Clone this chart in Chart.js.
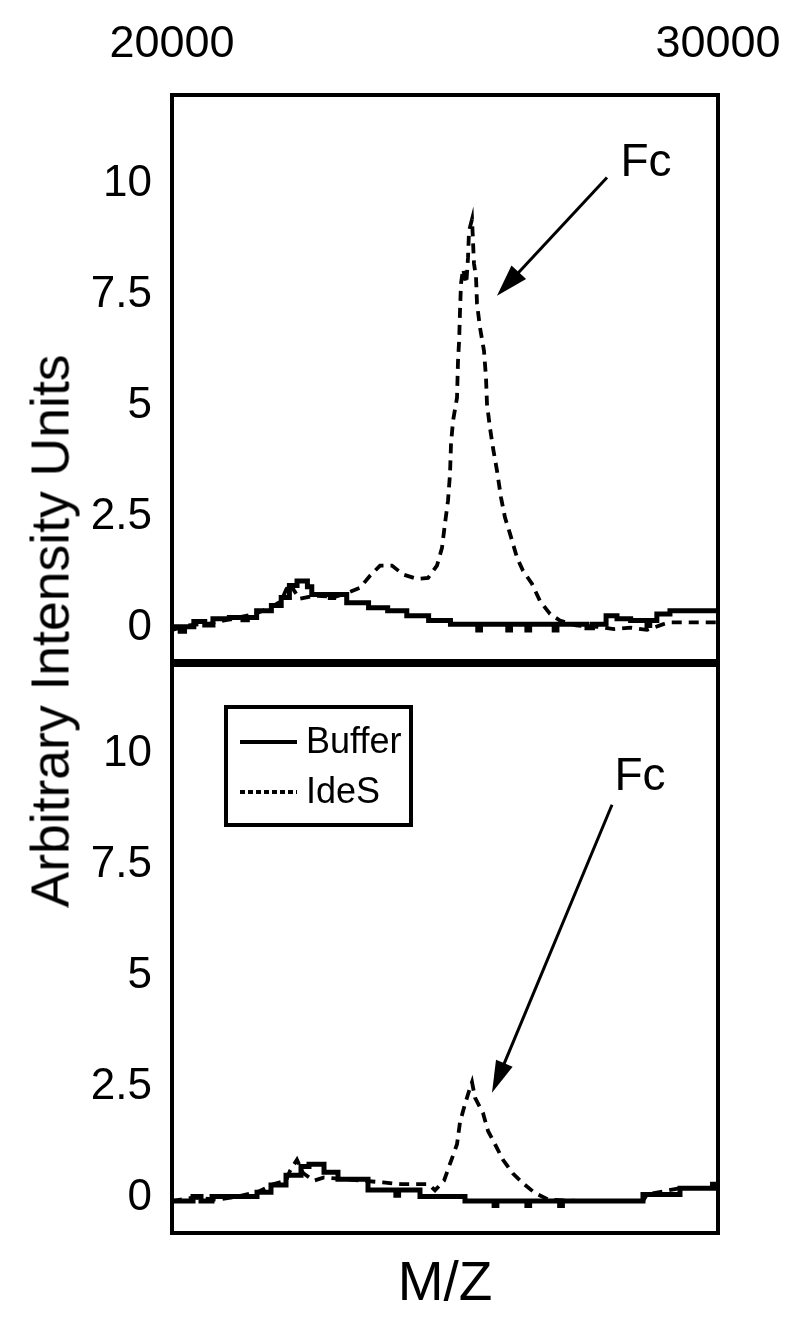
<!DOCTYPE html>
<html><head><meta charset="utf-8">
<script src="https://cdn.jsdelivr.net/npm/chart.js@4.4.1/dist/chart.umd.min.js"></script>
<style>
html,body{margin:0;padding:0;background:#fff;}
#wrap{position:relative;width:800px;height:1331px;overflow:hidden;background:#fff;}
canvas{position:absolute;left:0;}
#c1{top:0;}
#c2{top:663px;}
#ytitle{position:absolute;left:50px;top:631px;transform:translate(-50%,-50%) rotate(-90deg);font-size:53.5px;font-family:"Liberation Sans",Arial,sans-serif;white-space:nowrap;color:#000;}
</style></head><body>
<div id="wrap">
<canvas id="c1" width="800" height="665"></canvas>
<canvas id="c2" width="800" height="668"></canvas>
<div id="ytitle">Arbitrary Intensity Units</div>
</div>
<script>
// ---------- data ----------
const xTicks = [20000, 30000];
const yTicks = [0, 2.5, 5, 7.5, 10];
const seriesNames = ['Buffer', 'IdeS'];
const xTitle = 'M/Z';
const peakLabel = 'Fc';

// top panel
const topBufferMZ = [20000,20150,20230,20400,20600,20750,21050,21300,21380,21550,21820,22000,22150,22290,22480,22560,22900,22960,23200,23600,23950,24300,24700,25100,25600,25650,26150,26200,26500,26550,27000,27050,27600,27700,27950,28150,28400,28700,28750,28880,29120,30000];
const topBufferI  = [0.02,-0.08,0.02,0.14,0.06,0.2,0.23,0.18,0.23,0.38,0.5,0.68,0.95,1.05,0.92,0.75,0.68,0.75,0.56,0.45,0.38,0.27,0.16,0.08,-0.05,0.08,-0.05,0.08,-0.05,0.08,-0.05,0.08,0.0,0.08,0.27,0.2,0.16,0.05,0.16,0.31,0.38,0.38];

const topIdesMZ = [20000,20300,20700,21100,21500,21800,22000,22088,22161,22230,22330,22600,23000,23205,23443,23626,23810,24029,24231,24487,24689,24853,24945,25000,25055,25092,25110,25147,25220,25238,25260,25275,25293,25330,25390,25421,25440,25495,25513,25531,25568,25586,25641,25714,25751,25769,25824,25879,25952,26026,26099,26190,26319,26429,26593,26740,26923,27106,27400,27800,28100,28400,28700,29000,29121,30000];
const topIdesI  = [-0.05,0.05,0.1,0.2,0.3,0.45,0.6,0.85,1.0,0.85,0.65,0.72,0.7,0.78,0.9,1.17,1.4,1.4,1.2,1.1,1.12,1.4,1.8,2.35,2.86,3.47,4.14,4.66,5.18,6.0,6.5,7.14,7.75,8.08,7.75,8.33,8.94,9.2,8.7,8.2,7.9,7.3,6.76,6.24,5.63,5.04,4.5,4.05,3.54,2.93,2.48,2.12,1.58,1.28,0.99,0.6,0.31,0.16,0.05,0.02,-0.03,0.0,-0.05,0.08,0.12,0.12];

// bottom panel
const botBufferMZ = [20000,20385,20531,20733,21557,21813,22088,22363,22509,22784,23040,23590,24100,24150,24542,25366,25900,25950,26500,26550,27100,27150,28626,29304,29900,29950,30000];
const botBufferI  = [-0.08,0.02,-0.08,0.02,0.12,0.28,0.5,0.7,0.75,0.57,0.41,0.17,0.05,0.17,0.02,-0.08,-0.18,-0.08,-0.18,-0.08,-0.18,-0.08,0.07,0.21,0.3,0.21,0.21];

const botIdesMZ = [20000,20400,20800,21200,21600,21850,22088,22161,22289,22400,22600,22784,23300,23864,24200,24700,24817,24982,25220,25275,25366,25440,25495,25549,25697,25788,25916,26062,26245,26447,26648,26900,27500,28200,28626,28700,29304,30000];
const botIdesI  = [-0.08,0.0,-0.05,0.02,0.14,0.3,0.38,0.6,0.85,0.55,0.38,0.45,0.4,0.34,0.3,0.3,0.16,0.38,1.2,1.7,2.1,2.4,2.6,2.25,1.9,1.5,1.2,0.85,0.54,0.3,0.1,-0.05,-0.08,-0.08,-0.08,0.07,0.21,0.21];

// ---------- helpers ----------
const FONT = '"Liberation Sans", Arial, sans-serif';
const toPoints = (xs, ys) => xs.map((x, i) => ({x: x, y: ys[i]}));

const framePlugin = {
  id: 'frame',
  afterDraw(chart, args, o) {
    const {ctx, chartArea: a} = chart;
    ctx.save();
    ctx.strokeStyle = '#000';
    ctx.lineWidth = o.width || 4;
    ctx.strokeRect(a.left, a.top, a.right - a.left, a.bottom - a.top);
    ctx.restore();
  }
};

const arrowPlugin = {
  id: 'fcArrow',
  afterDatasetsDraw(chart, args, o) {
    if (!o || !o.text) return;
    const xs = chart.scales.x, ys = chart.scales.y, ctx = chart.ctx;
    ctx.save();
    ctx.fillStyle = '#000'; ctx.strokeStyle = '#000';
    ctx.font = o.fontSize + 'px ' + FONT;
    ctx.textAlign = 'center'; ctx.textBaseline = 'middle';
    ctx.fillText(o.text, xs.getPixelForValue(o.textAt[0]), ys.getPixelForValue(o.textAt[1]));
    const x0 = xs.getPixelForValue(o.from[0]), y0 = ys.getPixelForValue(o.from[1]);
    const x1 = xs.getPixelForValue(o.to[0]), y1 = ys.getPixelForValue(o.to[1]);
    const ang = Math.atan2(y1 - y0, x1 - x0);
    const hl = o.headLength, hw = o.headWidth / 2;
    const bx = x1 - hl * Math.cos(ang), by = y1 - hl * Math.sin(ang);
    ctx.lineWidth = o.lineWidth;
    ctx.beginPath(); ctx.moveTo(x0, y0); ctx.lineTo(bx + 2 * Math.cos(ang), by + 2 * Math.sin(ang)); ctx.stroke();
    ctx.beginPath();
    ctx.moveTo(x1, y1);
    ctx.lineTo(bx + hw * Math.sin(ang), by - hw * Math.cos(ang));
    ctx.lineTo(bx - hw * Math.sin(ang), by + hw * Math.cos(ang));
    ctx.closePath(); ctx.fill();
    ctx.restore();
  }
};

const boxLegend = {
  id: 'boxLegend',
  afterDraw(chart, args, o) {
    if (!o || !o.show) return;
    const a = chart.chartArea, ctx = chart.ctx;
    const x = a.left + o.dx, y = a.top + o.dy;
    ctx.save();
    ctx.strokeStyle = '#000'; ctx.fillStyle = '#000';
    ctx.lineWidth = 4;
    ctx.strokeRect(x, y, o.w, o.h);
    ctx.font = o.fontSize + 'px ' + FONT;
    ctx.textAlign = 'left'; ctx.textBaseline = 'middle';
    chart.data.datasets.forEach((ds, i) => {
      const ry = y + o.row0 + i * o.rowGap;
      ctx.setLineDash(ds.borderDash && ds.borderDash.length ? o.sampleDash : []);
      ctx.lineWidth = 4;
      ctx.beginPath(); ctx.moveTo(x + o.lx0, ry); ctx.lineTo(x + o.lx1, ry); ctx.stroke();
      ctx.setLineDash([]);
      ctx.fillText(ds.label, x + o.tx, ry + 1);
    });
    ctx.restore();
  }
};

function datasets(bMZ, bI, iMZ, iI) {
  return [
    {label: seriesNames[0], data: toPoints(bMZ, bI), borderColor: '#000', borderWidth: 5, stepped: 'before', pointRadius: 0, fill: false},
    {label: seriesNames[1], data: toPoints(iMZ, iI), borderColor: '#000', borderWidth: 3.8, borderDash: [10, 7], pointRadius: 0, tension: 0, fill: false}
  ];
}

function yScale(min, max) {
  return {
    type: 'linear', position: 'left', min: min, max: max,
    grid: {display: false, drawTicks: false}, border: {display: false},
    ticks: {color: '#000', font: {family: FONT, size: 44}, padding: 20, callback: v => String(v)},
    afterBuildTicks: s => { s.ticks = yTicks.map(v => ({value: v})); },
    afterFit: s => { s.width = 172; s.paddingTop = 0; s.paddingBottom = 0; }
  };
}

Chart.defaults.animation = false;

new Chart(document.getElementById('c1'), {
  type: 'line',
  data: {datasets: datasets(topBufferMZ, topBufferI, topIdesMZ, topIdesI)},
  options: {
    responsive: false, devicePixelRatio: 1, animation: false,
    layout: {padding: {left: 0, right: 82, top: 0, bottom: 4}},
    scales: {
      x: {
        type: 'linear', position: 'top', min: 20000, max: 30000,
        grid: {display: false, drawTicks: false}, border: {display: false},
        ticks: {color: '#000', font: {family: FONT, size: 45}, padding: 23, maxRotation: 0, autoSkip: false, callback: v => String(v)},
        afterBuildTicks: s => { s.ticks = xTicks.map(v => ({value: v})); },
        afterFit: s => { s.height = 95; s.paddingLeft = 0; s.paddingRight = 0; }
      },
      y: yScale(-0.75, 12)
    },
    plugins: {
      legend: {display: false}, tooltip: {enabled: false},
      frame: {width: 4},
      fcArrow: {text: peakLabel, fontSize: 46, textAt: [28681, 10.47], from: [27967, 10.14], to: [25952, 7.48], lineWidth: 3, headLength: 32, headWidth: 20},
      boxLegend: {show: false}
    }
  },
  plugins: [framePlugin, arrowPlugin, boxLegend]
});

new Chart(document.getElementById('c2'), {
  type: 'line',
  data: {datasets: datasets(botBufferMZ, botBufferI, botIdesMZ, botIdesI)},
  options: {
    responsive: false, devicePixelRatio: 1, animation: false,
    layout: {padding: {left: 0, right: 82, top: 2, bottom: 0}},
    scales: {
      x: {
        type: 'linear', position: 'bottom', min: 20000, max: 30000,
        grid: {display: false, drawTicks: false}, border: {display: false},
        ticks: {display: false},
        title: {display: true, text: xTitle, color: '#000', font: {family: FONT, size: 55}, padding: {top: 0, bottom: 13}},
        afterFit: s => { s.height = 98; s.paddingLeft = 0; s.paddingRight = 0; }
      },
      y: yScale(-0.8, 12.0)
    },
    plugins: {
      legend: {display: false}, tooltip: {enabled: false},
      frame: {width: 4},
      fcArrow: {text: peakLabel, fontSize: 46, textAt: [28571, 9.48], from: [28059, 8.85], to: [25861, 2.36], lineWidth: 3, headLength: 32, headWidth: 18},
      boxLegend: {show: true, dx: 54, dy: 42, w: 185, h: 118, row0: 35, rowGap: 50, lx0: 14, lx1: 71, tx: 80, fontSize: 36, sampleDash: [5, 3]}
    }
  },
  plugins: [framePlugin, arrowPlugin, boxLegend]
});
</script>
</body></html>
